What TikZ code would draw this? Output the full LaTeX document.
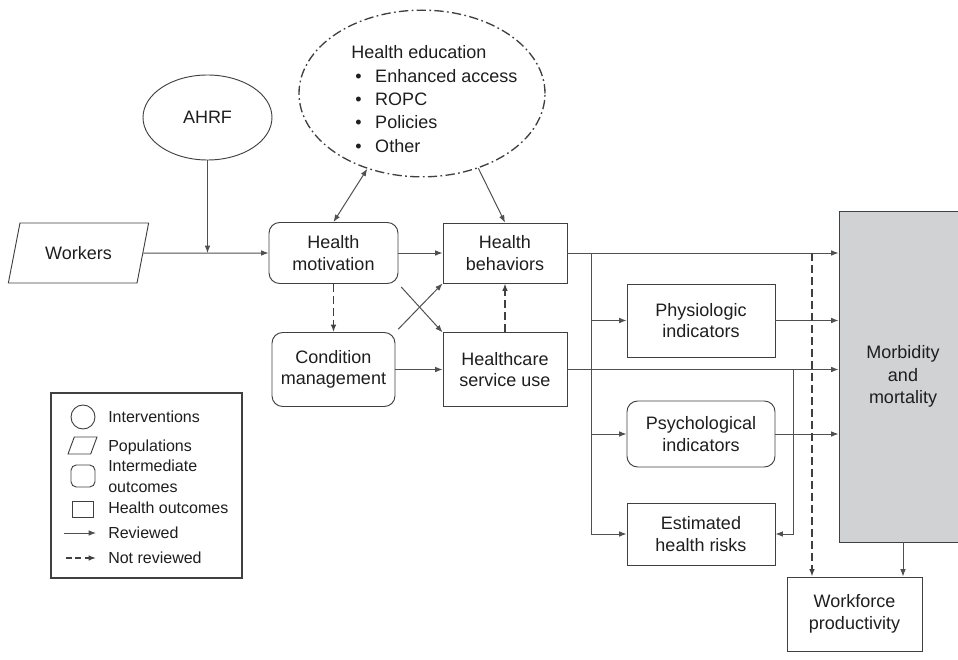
\documentclass[tikz,border=0pt]{standalone}
\usepackage{fontspec}
\setmainfont{Liberation Sans}
\usetikzlibrary{shapes.geometric,arrows.meta}
\definecolor{linec}{HTML}{404040}
\definecolor{conc}{HTML}{505050}
\definecolor{txtc}{HTML}{1E1E1E}
\definecolor{morbfill}{HTML}{D1D2D4}
\newcommand{\mainfs}{\fontsize{13.5}{16}\selectfont}
\newcommand{\listfs}{\fontsize{13.5}{17.5}\selectfont}
\newcommand{\morbfs}{\fontsize{13.5}{17}\selectfont}
\newcommand{\legfs}{\fontsize{12}{15.5}\selectfont}
\newcommand{\blt}{\makebox[18pt][l]{\hspace{3pt}\textbullet}}
\begin{document}
\begin{tikzpicture}[x=0.75pt,y=-0.75pt,
 ltip/.tip={Latex[length=5.5pt,width=4.2pt]},
 every node/.style={text=txtc},
 box/.style={draw=linec, line width=0.7pt, align=center, inner sep=0pt, font=\mainfs},
 rbox/.style={box, rounded corners=8pt},
 ell/.style={box, ellipse},
 para/.style={box, trapezium, trapezium left angle=63.4, trapezium right angle=116.6, trapezium stretches=true},
 arr/.style={draw=conc, line width=0.75pt, -ltip},
 darr/.style={arr, draw=linec, line width=1.3pt, dash pattern=on 6pt off 3pt},
 lab/.style={font=\legfs, anchor=west, inner sep=0pt, align=left}
]
\useasboundingbox (0,0) rectangle (958,660);

% main nodes
\node[ell, minimum width=96.75pt, minimum height=63.75pt] (ahrf) at (207.5,117.5) {AHRF};
\node[ell, line width=1pt, dash pattern=on 7pt off 2.5pt on 1.3pt off 2.5pt, minimum width=184.5pt, minimum height=125pt] (hedu) at (422,93.5) {};
\node[font=\listfs, align=left, anchor=west, inner sep=0pt] (hedutxt) at (351,99) {Health education\\\blt Enhanced access\\\blt ROPC\\\blt Policies\\\blt Other};
\node[para, minimum width=105.75pt, minimum height=45pt] (workers) at (78.5,253) {Workers};
\node[rbox, minimum width=96.75pt, minimum height=45.75pt] (hm) at (333.5,253) {Health\\motivation};
\node[box, minimum width=93pt, minimum height=45pt] (hb) at (505,253) {Health\\behaviors};
\node[rbox, minimum width=92.25pt, minimum height=55.5pt] (cm) at (333.5,369.5) {Condition\\management};
\node[box, minimum width=93pt, minimum height=55pt] (hsu) at (505,369.5) {Healthcare\\service use};
\node[box, minimum width=111pt, minimum height=54.75pt] (phys) at (701,320.5) {Physiologic\\indicators};
\node[rbox, minimum width=111pt, minimum height=49.5pt] (psy) at (701,434) {Psychological\\indicators};
\node[box, minimum width=111pt, minimum height=46.5pt] (est) at (701,534) {Estimated\\health risks};
\node[box, fill=morbfill, font=\morbfs, minimum width=96pt, minimum height=248.25pt] (morb) at (903,376.5) {Morbidity\\and\\mortality};
\node[box, minimum width=101.25pt, minimum height=55.5pt] (wp) at (854.5,614) {Workforce\\productivity};

% connectors
\draw[arr] (workers.east) -- (hm.west);
\draw[arr] (ahrf.south) -- (ahrf.south |- workers.east);
\draw[arr, ltip-ltip] (hedu.234) -- (hm.north);
\draw[arr] (hedu.307) -- (hb.north);
\draw[arr] (hm.east) -- (hb.west);
\draw[darr] (hm.south) -- (cm.north);
\draw[arr, shorten <=3pt] (hm.south east) -- (hsu.north west);
\draw[arr, shorten <=3pt] (cm.north east) -- (hb.south west);
\draw[arr] (cm.east) -- (hsu.west);
\draw[darr] (hsu.north) -- (hb.south);
\draw[arr] (hb.east) -- (hb.east -| morb.west);
\coordinate (b1) at (591,253);
\draw[arr] (b1) |- (est.west);
\draw[arr] (b1 |- phys.west) -- (phys.west);
\draw[arr] (b1 |- psy.west) -- (psy.west);
\draw[arr] (phys.east) -- (phys.east -| morb.west);
\draw[arr] (hsu.east) -- (hsu.east -| morb.west);
\coordinate (b2) at (793,369.5);
\draw[arr] (b2) |- (est.east);
\draw[arr] (psy.east) -- (psy.east -| morb.west);
\coordinate (d1) at (812,253);
\draw[darr] (d1) -- (d1 |- wp.north);
\draw[arr] (morb.south) -- (morb.south |- wp.north);

% legend
\node[draw=linec, line width=0.8pt, minimum width=143.25pt, minimum height=138.75pt, inner sep=0pt] (leg) at (146.5,485.5) {};
\node[draw=linec, circle, line width=0.7pt, minimum size=18pt, inner sep=0pt] (lcirc) at (83,417) {};
\node[lab] (lint) at (108,417) {Interventions};
\node[para, line width=0.7pt, inner sep=1pt, trapezium left angle=69, trapezium right angle=111, minimum width=21.75pt, minimum height=12.75pt] (lpara) at (82.5,445.5) {};
\node[lab] (lpop) at (108,447) {Populations};
\node[draw=linec, rounded corners=4pt, line width=0.7pt, minimum width=18pt, minimum height=16.5pt, inner sep=0pt] (lround) at (83,476) {};
\node[lab] (lio) at (108,476.5) {Intermediate\\outcomes};
\node[draw=linec, line width=0.7pt, minimum width=15.75pt, minimum height=12pt, inner sep=0pt] (lsq) at (82.5,509) {};
\node[lab] (lho) at (108,508) {Health outcomes};
\coordinate (la1) at (64,533);
\coordinate (la2) at (96,533);
\draw[arr] (la1) -- (la2);
\node[lab] (lrev) at (108,533) {Reviewed};
\coordinate (lb1) at (66,558);
\coordinate (lb2) at (96,558);
\draw[darr, line width=1.1pt, dash pattern=on 4.5pt off 2.5pt] (lb1) -- (lb2);
\node[lab] (lnrev) at (108,558) {Not reviewed};
\end{tikzpicture}
\end{document}
